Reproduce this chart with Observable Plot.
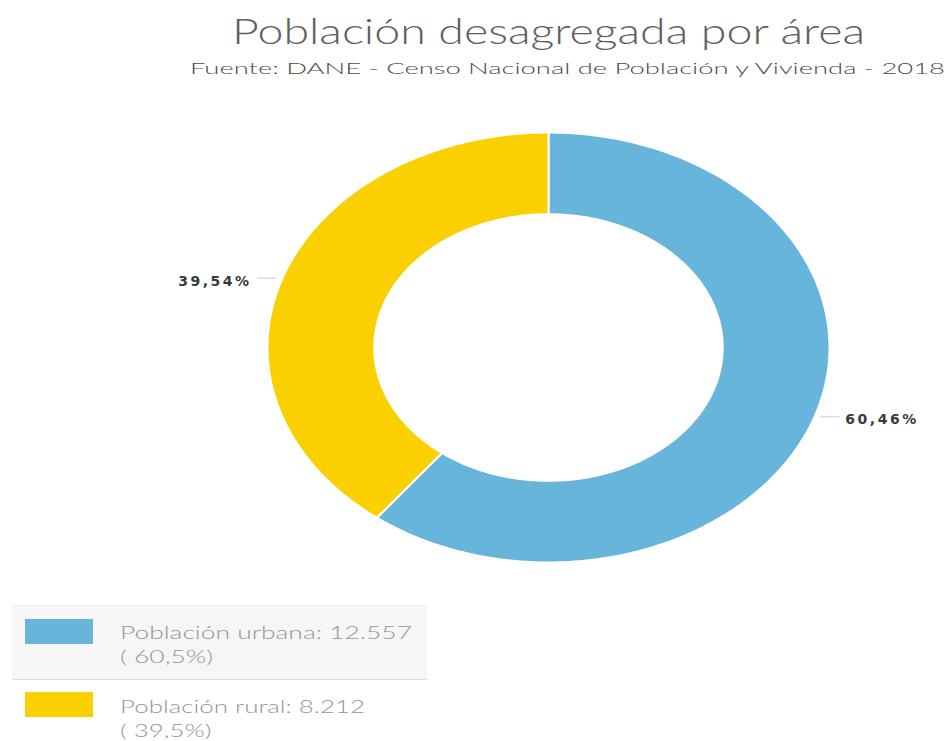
<!DOCTYPE html>
<html>
<head>
<meta charset="utf-8">
<script src="https://cdn.jsdelivr.net/npm/d3@7"></script>
<script src="https://cdn.jsdelivr.net/npm/@observablehq/plot@0.6"></script>
<style>
  body { margin: 0; background: #fff; width: 950px; height: 741px; position: relative; overflow: hidden; }
  .fit { position: absolute; white-space: nowrap; transform-origin: 0 0; line-height: 1; }
  #chart { position: absolute; left: 0; top: 90px; }
  .row { position: absolute; left: 12px; width: 415px; height: 75px; box-sizing: border-box; }
  .sw { position: absolute; left: 13px; width: 68px; height: 25px; }
</style>
</head>
<body>
<div id="title" class="fit" style="left:232px; top:8px; font:300 36px Lato; color:#606060;">Población desagregada por área</div>
<div id="subtitle" class="fit" style="left:190px; top:58px; font:300 16px Lato; color:#4a4a4a;">Fuente: DANE - Censo Nacional de Población y Vivienda - 2018</div>
<div id="chart"></div>
<div id="legend"></div>
<script>
const categories = ["Población urbana", "Población rural"];
const values = [12557, 8212];
const percents = [60.46, 39.54];
const legendPercents = ["60,5%", "39,5%"];
const colors = ["#68B5DC", "#FBD000"];

function fitWidth(el, target) {
  const w = el.getBoundingClientRect().width;
  el.style.transform = `scaleX(${target / w})`;
}
fitWidth(document.getElementById("title"), 633);
fitWidth(document.getElementById("subtitle"), 755);

const inner = 0.62;
const total = d3.sum(percents);
let acc = 0;
const slices = categories.map((c, i) => {
  const a0 = acc / total * 2 * Math.PI;
  acc += percents[i];
  const a1 = acc / total * 2 * Math.PI;
  return {name: c, a0, a1, pct: percents[i]};
});

const pts = [];
for (const s of slices) {
  const n = Math.max(2, Math.ceil((s.a1 - s.a0) / (Math.PI / 180)));
  const ring = [];
  for (let k = 0; k <= n; k++) {
    const a = s.a0 + (s.a1 - s.a0) * k / n;
    ring.push({name: s.name, x: Math.sin(a), y: Math.cos(a)});
  }
  for (let k = n; k >= 0; k--) {
    const a = s.a0 + (s.a1 - s.a0) * k / n;
    ring.push({name: s.name, x: inner * Math.sin(a), y: inner * Math.cos(a)});
  }
  ring.push(ring[0]);
  pts.push(...ring);
}

const labels = slices.map(s => {
  const m = (s.a0 + s.a1) / 2;
  const x = Math.sin(m), y = Math.cos(m);
  const side = x >= 0 ? 1 : -1;
  return {
    text: s.pct.toFixed(2).replace(".", ",") + "%",
    x1: x + side * 0.02, x2: x + side * 0.09, y,
    tx: x + side * 0.11, anchor: side > 0 ? "start" : "end"
  };
});

const chart = Plot.plot({
  width: 950,
  height: 500,
  marginLeft: 267,
  marginRight: 121,
  marginTop: 42,
  marginBottom: 28,
  x: {domain: [-1, 1], axis: null},
  y: {domain: [-1, 1], axis: null},
  color: {domain: categories, range: colors},
  style: {fontFamily: "DejaVu Sans", letterSpacing: "2.5px", background: "transparent"},
  marks: [
    Plot.line(pts, {x: "x", y: "y", z: "name", fill: "name", stroke: "white", strokeWidth: 2, curve: "linear"}),
    Plot.link(labels, {x1: "x1", x2: "x2", y1: "y", y2: "y", stroke: "#cccccc", strokeWidth: 1}),
    Plot.text(labels.filter(d => d.anchor === "start"), {x: "tx", y: "y", text: "text", textAnchor: "start", fontSize: 14, fontWeight: "bold", fill: "#3a3a3a", dy: 3}),
    Plot.text(labels.filter(d => d.anchor === "end"), {x: "tx", y: "y", text: "text", textAnchor: "end", fontSize: 14, fontWeight: "bold", fill: "#3a3a3a", dy: 3})
  ]
});
document.getElementById("chart").appendChild(chart);

const fmt = v => d3.format(",")(v).replace(/,/g, ".");
const legend = document.getElementById("legend");
const rowTops = [605, 680];
const textTargets = [292, 245];
categories.forEach((c, i) => {
  const row = document.createElement("div");
  row.className = "row";
  row.style.top = rowTops[i] + "px";
  if (i === 0) { row.style.background = "#f6f6f6"; row.style.borderBottom = "1px solid #dcdcdc"; row.style.borderTop = "1px solid #eeeeee"; }
  const sw = document.createElement("div");
  sw.className = "sw";
  sw.style.background = colors[i];
  sw.style.top = (i === 0 ? 13 : 12) + "px";
  row.appendChild(sw);
  const l1 = document.createElement("div");
  l1.className = "fit";
  l1.style.cssText += "left:108px; top:16px; font:300 17px Lato; color:#959595;";
  l1.textContent = c + ":  " + fmt(values[i]);
  const l2 = document.createElement("div");
  l2.className = "fit";
  l2.style.cssText += "left:108px; top:40px; font:300 17px Lato; color:#959595;";
  l2.textContent = "( " + legendPercents[i] + ")";
  row.appendChild(l1);
  row.appendChild(l2);
  legend.appendChild(row);
  const w = l1.getBoundingClientRect().width;
  const s = textTargets[i] / w;
  l1.style.transform = `scaleX(${s})`;
  l2.style.transform = `scaleX(${s})`;
});
</script>
</body>
</html>
